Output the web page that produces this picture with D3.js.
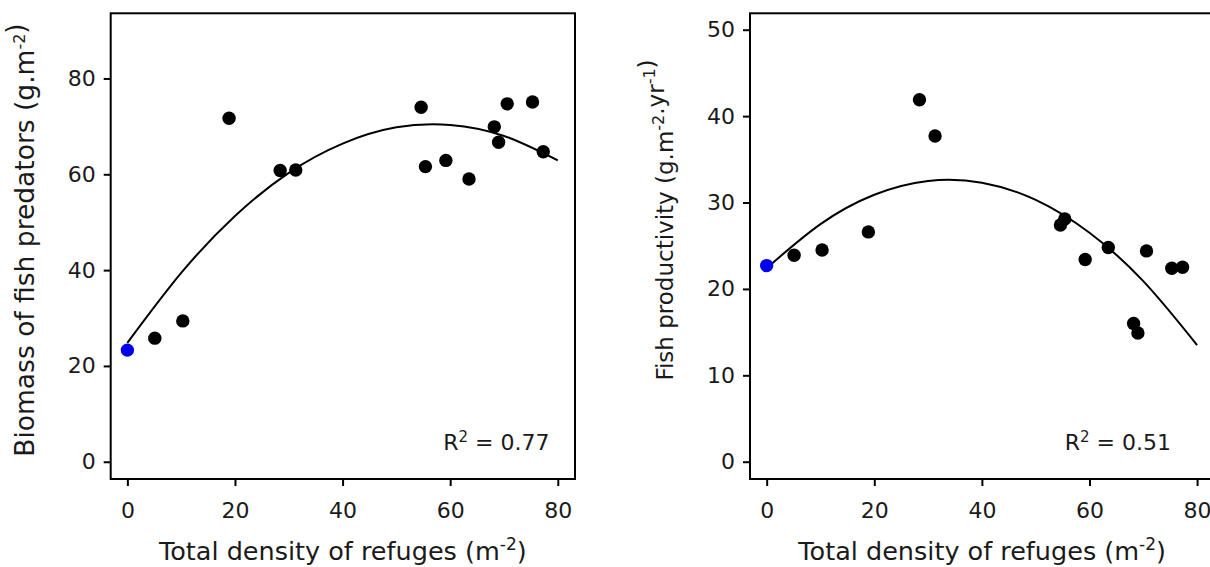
<!DOCTYPE html>
<html>
<head>
<meta charset="utf-8">
<script src="https://cdn.jsdelivr.net/npm/d3@7"></script>
<style>
  body { margin: 0; background: #fff; }
  svg { display: block; font-family: "DejaVu Sans", sans-serif; }
</style>
</head>
<body>
<div id="chart"></div>
<script>
// refuge density, shared by both panels (first point is the control, drawn blue)
const refuges = [0, 5.1, 10.3, 18.9, 28.4, 31.3, 54.6, 55.4, 59.2, 63.5, 68.2, 69.0, 70.6, 75.3, 77.3];
const biomass = [23.3, 25.8, 29.4, 71.7, 60.8, 60.9, 74.0, 61.6, 62.9, 59.0, 69.9, 66.7, 74.7, 75.1, 64.7];
const productivity = [22.7, 23.9, 24.5, 26.6, 41.9, 37.7, 27.4, 28.1, 23.4, 24.8, 16.0, 14.9, 24.4, 22.4, 22.5];

// fitted curves
const fitX = [0, 10, 20, 30, 40, 50, 60, 70, 80];
const biomassFit = [24.8, 39.4, 51.3, 60.3, 66.4, 69.8, 70.3, 68.0, 62.9];
const productivityFit = [22.4, 27.5, 30.9, 32.5, 32.3, 30.3, 26.5, 20.9, 13.5];

const xTicks = [0, 20, 40, 60, 80];
const biomassTicks = [0, 20, 40, 60, 80];
const productivityTicks = [0, 10, 20, 30, 40, 50];

const width = 1210;
const height = 567;

const svg = d3.select("#chart")
  .append("svg")
  .attr("width", width)
  .attr("height", height);

function drawPanel(opt) {
    const x = d3.scaleLinear().domain([-3.1, 83.2]).range([opt.left, opt.left + 464.3]);
    const y = d3.scaleLinear().domain(opt.yDomain).range([479, 13.3]);
    const g = svg.append("g");

    // axes
    const ax = g.append("g")
      .attr("transform", "translate(0,479)")
      .call(d3.axisBottom(x).tickValues(xTicks).tickSize(7).tickPadding(16));
    const ay = g.append("g")
      .attr("transform", "translate(" + opt.left + ",0)")
      .call(d3.axisLeft(y).tickValues(opt.ticks).tickSize(7).tickPadding(8));
    [ax, ay].forEach(a => {
        a.select(".domain").remove();
        a.selectAll("line").attr("stroke", "#000").attr("stroke-width", 2);
        a.selectAll("text").attr("fill", "#1a1a1a").style("font-size", "22px")
          .style("font-family", "DejaVu Sans");
    });

    // fitted curve
    const line = d3.line()
      .x(d => x(d[0]))
      .y(d => y(d[1]))
      .curve(d3.curveNatural);
    g.append("path")
      .datum(fitX.map((v, i) => [v, opt.fit[i]]))
      .attr("d", line)
      .attr("fill", "none")
      .attr("stroke", "#000")
      .attr("stroke-width", 2);

    // points
    g.selectAll("circle")
      .data(refuges.map((v, i) => [v, opt.values[i]]))
      .enter()
      .append("circle")
      .attr("cx", d => x(d[0]))
      .attr("cy", d => y(d[1]))
      .attr("r", 6.7)
      .attr("fill", (d, i) => i === 0 ? "#0000ee" : "#000");

    // frame
    g.append("rect")
      .attr("x", x.range()[0])
      .attr("y", 13.3)
      .attr("width", 464.3)
      .attr("height", 479 - 13.3)
      .attr("fill", "none")
      .attr("stroke", "#000")
      .attr("stroke-width", 2);

    // R squared
    const r2 = g.append("text")
      .attr("x", x(opt.r2At[0]))
      .attr("y", y(opt.r2At[1]))
      .attr("fill", "#1a1a1a")
      .style("font-size", "22px");
    r2.append("tspan").text("R");
    r2.append("tspan").attr("dy", -8).style("font-size", "15px").text("2");
    r2.append("tspan").attr("dy", 8).text(" = " + opt.r2);

    // x label
    const xl = g.append("text")
      .attr("x", x.range()[0] + 464.3 / 2)
      .attr("y", 560)
      .attr("text-anchor", "middle")
      .attr("fill", "#1a1a1a")
      .style("font-size", "25.5px");
    xl.append("tspan").text("Total density of refuges (m");
    xl.append("tspan").attr("dy", -10).style("font-size", "17px").text("-2");
    xl.append("tspan").attr("dy", 10).text(")");

    // y label
    const yl = g.append("text")
      .attr("transform", "translate(" + (opt.left - 77) + "," + opt.labelMid + ") rotate(-90)")
      .attr("text-anchor", "middle")
      .attr("fill", "#1a1a1a")
      .style("font-size", opt.labelSize + "px");
    opt.label.forEach(p => {
        if (p.sup) {
            yl.append("tspan").attr("dy", -9).style("font-size", "16px").text(p.sup);
            yl.append("tspan").attr("dy", 9).text("");
        } else {
            yl.append("tspan").text(p.t);
        }
    });
}

drawPanel({
    left: 110.7,
    yDomain: [-3.6, 93.6],
    ticks: biomassTicks,
    values: biomass,
    fit: biomassFit,
    r2: "0.77",
    r2At: [58.7, 2.4],
    labelMid: 240,
    labelSize: 26.5,
    label: [{t: "Biomass of fish predators (g.m"}, {sup: "-2"}, {t: ")"}]
});

drawPanel({
    left: 750,
    yDomain: [-2.0, 51.9],
    ticks: productivityTicks,
    values: productivity,
    fit: productivityFit,
    r2: "0.51",
    r2At: [55.4, 1.36],
    labelMid: 220,
    labelSize: 23,
    label: [{t: "Fish productivity (g.m"}, {sup: "-2"}, {t: ".yr"}, {sup: "-1"}, {t: ")"}]
});
</script>
</body>
</html>
